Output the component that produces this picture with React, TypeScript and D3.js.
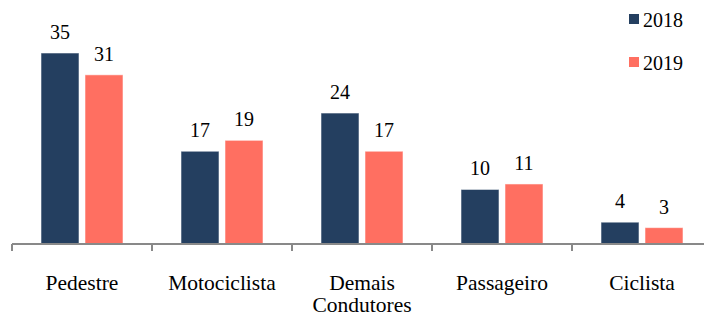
import React from 'react';
import * as d3 from 'd3';

const categories = ['Pedestre', 'Motociclista', 'Demais Condutores', 'Passageiro', 'Ciclista'];
const series = ['2018', '2019'];
const values2018 = [35, 17, 24, 10, 4];
const values2019 = [31, 19, 17, 11, 3];

const colors: Record<string, string> = { '2018': '#243F60', '2019': '#FF6F61' };
const FONT = "'Liberation Serif', Tinos, 'Times New Roman', Times, 'DejaVu Serif', serif";

const App = () => {
  const width = 704;
  const height = 316;
  const baseY = 244;

  const x = d3.scaleBand<string>().domain(categories).range([12, 712]).padding(0);
  const xs = d3.scaleBand<string>().domain(series).range([29, 111]).paddingInner(6 / 44);
  const y = d3.scaleLinear().domain([0, 35]).range([baseY, 53]);

  const rows = categories.map((c, i) => ({ cat: c, vals: { '2018': values2018[i], '2019': values2019[i] } as Record<string, number> }));
  const tickXs = [...categories.map(c => x(c) as number), (x(categories[categories.length - 1]) as number) + x.bandwidth()];

  return (
    <svg width={width} height={height} style={{ position: 'absolute', left: 0, top: 0, display: 'block' }}>
      <rect width={width} height={height} fill="#fff" />
      {rows.map(r => (
        <g key={r.cat} transform={`translate(${x(r.cat)},0)`}>
          {series.map(s => (
            <g key={s}>
              <rect
                x={xs(s)}
                y={y(r.vals[s])}
                width={xs.bandwidth()}
                height={baseY - y(r.vals[s])}
                fill={colors[s]}
                stroke="rgba(255,255,255,0.55)"
                strokeWidth={1}
              />
              <text
                x={(xs(s) as number) + xs.bandwidth() / 2}
                y={y(r.vals[s]) - 14}
                textAnchor="middle"
                style={{ fontFamily: FONT, fontSize: 20 }}
                fill="#000"
              >
                {r.vals[s]}
              </text>
            </g>
          ))}
          {r.cat.split(' ').map((w, j) => (
            <text key={j} x={x.bandwidth() / 2} y={290 + j * 22} textAnchor="middle" style={{ fontFamily: FONT, fontSize: 21.5 }} fill="#000">
              {w}
            </text>
          ))}
        </g>
      ))}
      {/* axis */}
      <line x1={12} x2={712} y1={baseY} y2={baseY} stroke="#898989" strokeWidth={2} />
      {tickXs.map((t, i) => (
        <line key={i} x1={t} x2={t} y1={baseY} y2={baseY + 7} stroke="#898989" strokeWidth={2} />
      ))}
      {/* legend */}
      {series.map((s, i) => (
        <g key={s} transform={`translate(629,${14 + i * 43})`}>
          <rect width={10} height={10} fill={colors[s]} />
          <text x={14} y={13} style={{ fontFamily: FONT, fontSize: 20 }} fill="#000">{s}</text>
        </g>
      ))}
    </svg>
  );
};

export default App;
